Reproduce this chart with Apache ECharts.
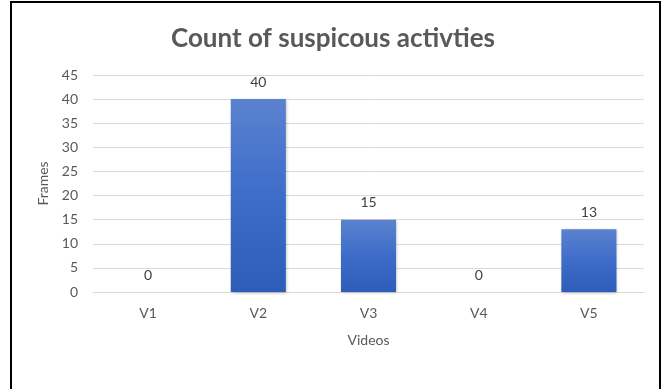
<!DOCTYPE html>
<html>
<head>
<meta charset="utf-8">
<script src="https://cdn.jsdelivr.net/npm/echarts@6/dist/echarts.min.js"></script>
<style>
  html, body { margin: 0; padding: 0; background: #fff; }
  #chart { width: 666px; height: 389px; }
</style>
</head>
<body>
<div id="chart"></div>
<script>
const categories = ['V1', 'V2', 'V3', 'V4', 'V5'];
const frameCounts = [0, 40, 15, 0, 13];
const yTicks = { min: 0, max: 45, interval: 5 };

const chart = echarts.init(document.getElementById('chart'));
const textColor = '#595959';
const font = 'Lato, "Open Sans", sans-serif';

chart.setOption({
  backgroundColor: '#ffffff',
  animation: false,
  title: {
    text: 'Count of suspicous activties',
    left: 'center',
    top: 21,
    textStyle: { fontFamily: font, fontSize: 26, fontWeight: 'bold', color: textColor }
  },
  graphic: [{
    type: 'rect',
    shape: { x: 11, y: 2, width: 649, height: 420 },
    style: { fill: 'none', stroke: '#000', lineWidth: 2 },
    silent: true
  }],
  grid: { left: 93, right: 22, top: 75, bottom: 97 },
  xAxis: {
    type: 'category',
    data: categories,
    name: 'Videos',
    nameLocation: 'middle',
    nameGap: 41,
    nameTextStyle: { fontFamily: font, fontSize: 14, color: textColor },
    axisLine: { lineStyle: { color: '#d9d9d9' } },
    axisTick: { show: false },
    axisLabel: { fontFamily: font, fontSize: 14, color: textColor, margin: 14 }
  },
  yAxis: {
    type: 'value',
    min: yTicks.min,
    max: yTicks.max,
    interval: yTicks.interval,
    name: 'Frames',
    nameLocation: 'middle',
    nameGap: 40,
    nameTextStyle: { fontFamily: font, fontSize: 14, color: textColor },
    axisLine: { show: false },
    axisTick: { show: false },
    axisLabel: { fontFamily: font, fontSize: 14, color: textColor, margin: 15 },
    splitLine: { lineStyle: { color: '#d9d9d9', width: 1 } }
  },
  series: [{
    type: 'bar',
    data: frameCounts,
    barWidth: '50%',
    itemStyle: {
      color: new echarts.graphic.LinearGradient(0, 0, 0, 1, [
        { offset: 0, color: '#5b82cf' },
        { offset: 0.5, color: '#3d6cc9' },
        { offset: 1, color: '#2d5db9' }
      ]),
      shadowColor: 'rgba(0,0,0,0.25)',
      shadowBlur: 3,
      shadowOffsetX: 1,
      shadowOffsetY: 1
    },
    label: {
      show: true,
      position: 'top',
      distance: 10,
      fontFamily: font,
      fontSize: 14,
      color: '#404040'
    }
  }]
});
</script>
</body>
</html>
